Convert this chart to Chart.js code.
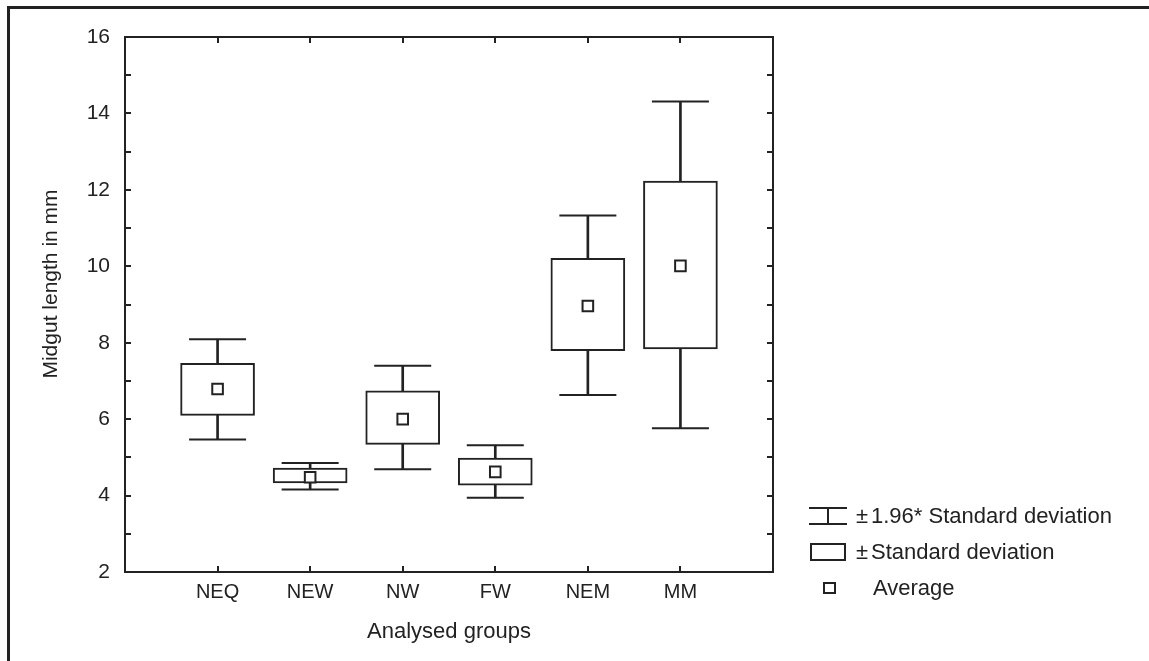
<!DOCTYPE html>
<html>
<head>
<meta charset="utf-8">
<script src="https://cdn.jsdelivr.net/npm/chart.js@4/dist/chart.umd.min.js"></script>
<style>
html, body { margin: 0; padding: 0; background: #fff; }
#wrap { position: relative; width: 1149px; height: 661px; }
#frame { position: absolute; left: 7px; top: 6px; right: 0; bottom: 0;
  border-top: 3px solid #222; border-left: 3px solid #222; pointer-events: none; }
</style>
</head>
<body>
<div id="wrap">
  <canvas id="chart" width="1149" height="661"></canvas>
  <div id="frame"></div>
</div>
<script>
// groups and values
var groups = ['NEQ', 'NEW', 'NW', 'FW', 'NEM', 'MM'];
var means  = [6.79, 4.48, 6.00, 4.62, 8.96, 10.01];
var sdLow  = [6.10, 4.33, 5.34, 4.27, 7.79, 7.84];
var sdHigh = [7.46, 4.72, 6.74, 4.98, 10.21, 12.23];
var ciLow  = [5.47, 4.16, 4.69, 3.94, 6.63, 5.76];
var ciHigh = [8.09, 4.85, 7.40, 5.32, 11.33, 14.31];
var yTicks = [2, 4, 6, 8, 10, 12, 14, 16];

var ink = '#222';
var font = 'Liberation Sans, Arial, sans-serif';

function pts(arr) {
  return arr.map(function(v, i) { return {x: i + 1, y: v}; });
}
function spans(lo, hi) {
  return lo.map(function(v, i) { return {x: i + 1, y: [v, hi[i]]}; });
}

// legend on the right + y title, drawn on the canvas
var legendPlugin = {
  id: 'sideLegend',
  afterDraw: function(chart) {
    var ctx = chart.ctx;
    ctx.save();
    ctx.strokeStyle = ink;
    ctx.lineWidth = 2;
    // whisker icon
    ctx.beginPath();
    ctx.moveTo(809, 508); ctx.lineTo(847, 508);
    ctx.moveTo(809, 524); ctx.lineTo(847, 524);
    ctx.moveTo(828, 508); ctx.lineTo(828, 524);
    ctx.stroke();
    // box icon
    ctx.strokeRect(811, 544, 34, 16);
    // mean icon
    ctx.strokeRect(824, 583, 11, 10);

    ctx.fillStyle = ink;
    ctx.font = '22px ' + font;
    ctx.textBaseline = 'middle';
    ctx.fillText('\u00b1', 856, 517);
    ctx.fillText('1.96* Standard deviation', 871, 517);
    ctx.fillText('\u00b1', 856, 553);
    ctx.fillText('Standard deviation', 871, 553);
    ctx.fillText('Average', 873, 589);

    // y axis title (sits a bit above the middle of the axis)
    ctx.translate(51, 284);
    ctx.rotate(-Math.PI / 2);
    ctx.textAlign = 'center';
    ctx.font = '21px ' + font;
    ctx.fillText('Midgut length in mm', 0, 0);
    ctx.restore();
  }
};

var tickGrid = { offset: false, drawOnChartArea: false, drawTicks: true, tickLength: -6, color: ink, lineWidth: 2 };
var axisBorder = { display: true, color: ink, width: 2 };

var chart = new Chart(document.getElementById('chart'), {
  type: 'bar',
  data: {
    datasets: [
      { // whisker stems
        label: 'stem', data: spans(ciLow, ciHigh),
        backgroundColor: ink, borderWidth: 0,
        barThickness: 2, grouped: false, order: 4
      },
      { // whisker caps
        type: 'scatter', label: 'capLow', data: pts(ciLow),
        pointStyle: 'line', pointRadius: 28.5, borderColor: ink, borderWidth: 2, order: 3
      },
      {
        type: 'scatter', label: 'capHigh', data: pts(ciHigh),
        pointStyle: 'line', pointRadius: 28.5, borderColor: ink, borderWidth: 2, order: 3
      },
      { // +- sd boxes
        label: 'box', data: spans(sdLow, sdHigh),
        backgroundColor: '#fff', borderColor: ink, borderWidth: 2, borderSkipped: false,
        barThickness: 74, grouped: false, order: 2
      },
      { // average
        type: 'scatter', label: 'mean', data: pts(means),
        pointStyle: 'rect', pointRadius: 7.5, backgroundColor: '#fff',
        borderColor: ink, borderWidth: 2, order: 1
      }
    ]
  },
  options: {
    responsive: false,
    animation: false,
    events: [],
    layout: { padding: { top: 0, left: 0, right: 376, bottom: 0 } },
    plugins: { legend: { display: false }, tooltip: { enabled: false } },
    scales: {
      x: {
        type: 'linear', position: 'bottom', min: 0, max: 7, offset: false,
        grid: tickGrid, border: axisBorder,
        afterFit: function(s) { s.height = 89; },
        ticks: {
          stepSize: 1, autoSkip: false, maxRotation: 0, padding: 14,
          color: ink, font: { family: font, size: 20 },
          callback: function(v) { return groups[v - 1] || ''; }
        },
        title: {
          display: true, text: 'Analysed groups', color: ink,
          font: { family: font, size: 22 }, padding: { top: 0, bottom: 16 }
        }
      },
      x2: {
        type: 'linear', position: 'top', min: 0, max: 7, offset: false,
        grid: tickGrid, border: axisBorder,
        afterFit: function(s) { s.height = 37; },
        ticks: { display: false, stepSize: 1 }
      },
      y: {
        type: 'linear', position: 'left', min: yTicks[0], max: yTicks[yTicks.length - 1],
        grid: tickGrid, border: axisBorder,
        afterFit: function(s) { s.width = 125; },
        ticks: {
          stepSize: 1, padding: 21, color: ink, font: { family: font, size: 21 },
          callback: function(v) { return yTicks.indexOf(v) >= 0 ? v : ''; }
        }
      },
      y2: {
        type: 'linear', position: 'right', min: yTicks[0], max: yTicks[yTicks.length - 1],
        grid: tickGrid, border: axisBorder,
        afterFit: function(s) { s.width = 0; },
        ticks: { display: false, stepSize: 1 }
      }
    }
  },
  plugins: [legendPlugin]
});
</script>
</body>
</html>
